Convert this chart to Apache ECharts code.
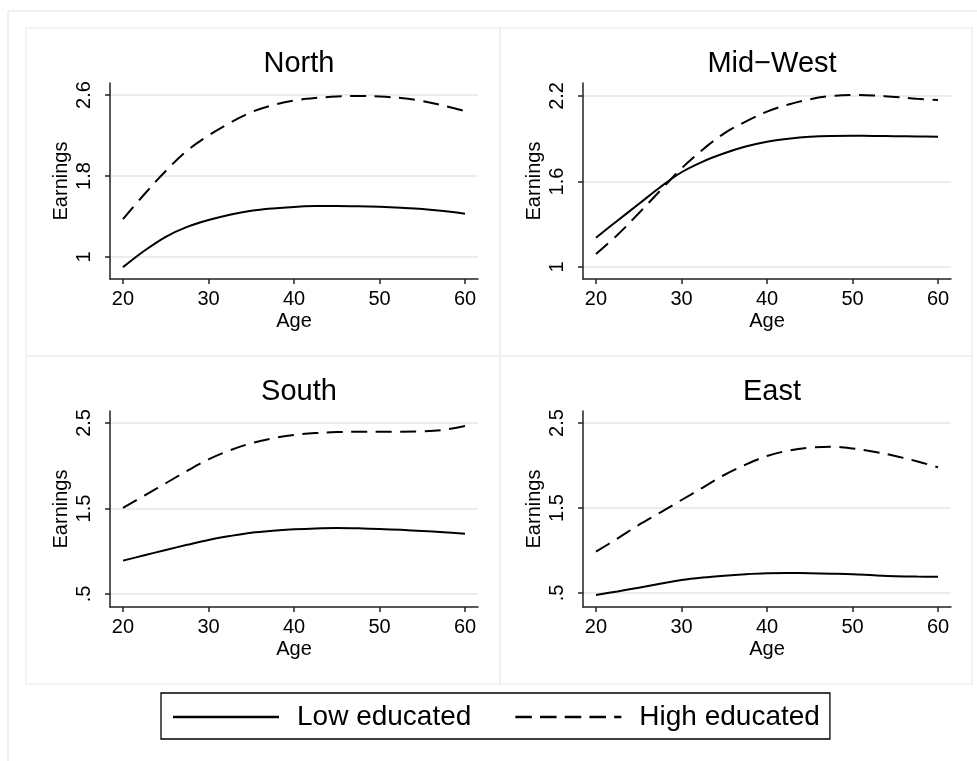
<!DOCTYPE html>
<html>
<head>
<meta charset="utf-8">
<script src="https://cdn.jsdelivr.net/npm/echarts@6/dist/echarts.min.js"></script>
<style>
html,body{margin:0;padding:0;background:#fff;}
#chart{width:977px;height:761px;}
</style>
</head>
<body>
<div id="chart"></div>
<script>
// ---- data ----
var ages = [20, 22.5, 25, 27.5, 30, 32.5, 35, 37.5, 40, 42.5, 45, 47.5, 50, 52.5, 55, 57.5, 60];
var regions = ['North', 'Mid\u2212West', 'South', 'East'];
var seriesNames = ['Low educated', 'High educated'];

var northLow  = [0.90, 1.062, 1.20, 1.298, 1.365, 1.418, 1.457, 1.48, 1.495, 1.503, 1.505, 1.502, 1.496, 1.487, 1.475, 1.455, 1.428];
var northHigh = [1.375, 1.62, 1.85, 2.05, 2.20, 2.325, 2.43, 2.50, 2.545, 2.57, 2.585, 2.59, 2.585, 2.57, 2.54, 2.495, 2.44];
var midwestLow  = [1.206, 1.325, 1.442, 1.56, 1.665, 1.74, 1.798, 1.845, 1.879, 1.90, 1.914, 1.92, 1.921, 1.92, 1.918, 1.916, 1.914];
var midwestHigh = [1.091, 1.225, 1.377, 1.535, 1.692, 1.825, 1.938, 2.02, 2.09, 2.14, 2.177, 2.20, 2.207, 2.203, 2.193, 2.18, 2.172];
var southLow  = [0.89, 0.953, 1.015, 1.075, 1.132, 1.178, 1.217, 1.24, 1.256, 1.267, 1.272, 1.268, 1.26, 1.25, 1.237, 1.222, 1.205];
var southHigh = [1.506, 1.65, 1.795, 1.94, 2.075, 2.18, 2.262, 2.32, 2.36, 2.382, 2.393, 2.397, 2.398, 2.398, 2.402, 2.42, 2.465];
var eastLow  = [0.476, 0.518, 0.562, 0.608, 0.653, 0.683, 0.704, 0.72, 0.731, 0.735, 0.733, 0.727, 0.72, 0.708, 0.698, 0.693, 0.692];
var eastHigh = [0.986, 1.14, 1.30, 1.445, 1.594, 1.74, 1.888, 2.01, 2.112, 2.175, 2.21, 2.22, 2.20, 2.162, 2.112, 2.05, 1.979];

var xTicks = [20, 30, 40, 50, 60];
var yTicksNorth = [1, 1.8, 2.6];
var yTicksMidwest = [1, 1.6, 2.2];
var yTicksSouth = [0.5, 1.5, 2.5];
var yTicksEast = [0.5, 1.5, 2.5];
var yTickLabels = {'0.5': '.5', '1': '1', '1.5': '1.5', '1.6': '1.6', '1.8': '1.8', '2.2': '2.2', '2.5': '2.5', '2.6': '2.6'};

var lowData = [northLow, midwestLow, southLow, eastLow];
var highData = [northHigh, midwestHigh, southHigh, eastHigh];
var yTickSets = [yTicksNorth, yTicksMidwest, yTicksSouth, yTicksEast];

// ---- layout ----
var FONT = '"Liberation Sans", Arial, Helvetica, sans-serif';
var grids = [
  {left: 110, top: 83, width: 368, height: 196},
  {left: 583, top: 83, width: 368, height: 196},
  {left: 110, top: 411, width: 368, height: 196},
  {left: 583, top: 411, width: 368, height: 196}
];
var yRanges = [[0.783, 2.7185], [0.916, 2.291], [0.348, 2.640], [0.335, 2.641]];
var xRange = [18.48, 61.52];

// legend icons (solid bar and five dashes)
var solidIcon = 'path://M0,0H106V2.6H0Z';
var dashedIcon = 'path://M0,0H16.5V2.6H0Z M24.7,0H41.2V2.6H24.7Z M49.4,0H65.9V2.6H49.4Z M74.1,0H90.6V2.6H74.1Z M98.8,0H106V2.6H98.8Z';

function pairs(arr) {
  return ages.map(function (a, i) { return [a, arr[i]]; });
}

var option = {
  backgroundColor: '#ffffff',
  animation: false,
  textStyle: {fontFamily: FONT},
  title: regions.map(function (r, i) {
    return {
      text: r,
      left: grids[i].left + grids[i].width / 2,
      top: i < 2 ? 44 : 372,
      textAlign: 'center',
      textStyle: {fontSize: 29, fontWeight: 'normal', color: '#000', fontFamily: FONT}
    };
  }),
  graphic: [
    {type: 'rect', silent: true, z: -10, shape: {x: 8, y: 11, width: 1100, height: 900},
     style: {fill: 'none', stroke: '#ebebeb', lineWidth: 1.5}},
    {type: 'rect', silent: true, z: -10, shape: {x: 26, y: 28, width: 474, height: 328},
     style: {fill: 'none', stroke: '#efefef', lineWidth: 1.5}},
    {type: 'rect', silent: true, z: -10, shape: {x: 500, y: 28, width: 472, height: 328},
     style: {fill: 'none', stroke: '#efefef', lineWidth: 1.5}},
    {type: 'rect', silent: true, z: -10, shape: {x: 26, y: 356, width: 474, height: 328},
     style: {fill: 'none', stroke: '#efefef', lineWidth: 1.5}},
    {type: 'rect', silent: true, z: -10, shape: {x: 500, y: 356, width: 472, height: 328},
     style: {fill: 'none', stroke: '#efefef', lineWidth: 1.5}}
  ],
  legend: {
    data: [
      {name: seriesNames[0], icon: solidIcon},
      {name: seriesNames[1], icon: dashedIcon}
    ],
    left: 161,
    top: 693,
    orient: 'horizontal',
    borderColor: '#000',
    borderWidth: 1.3,
    padding: [10, 10, 8, 12],
    itemWidth: 106,
    itemHeight: 2.6,
    itemGap: 44,
    selectedMode: false,
    itemStyle: {color: '#000', borderWidth: 0},
    textStyle: {fontSize: 28, color: '#000', fontFamily: FONT, padding: [0, 0, 0, 13]}
  },
  grid: grids,
  xAxis: grids.map(function (g, i) {
    return {
      type: 'value', gridIndex: i, min: xRange[0], max: xRange[1],
      name: 'Age', nameLocation: 'middle', nameGap: 32,
      nameTextStyle: {fontSize: 20, color: '#000', fontFamily: FONT},
      axisLine: {show: true, onZero: false, lineStyle: {color: '#222', width: 1.5}},
      axisTick: {show: true, length: 5, lineStyle: {color: '#222', width: 1.5}, customValues: xTicks},
      axisLabel: {fontSize: 20, color: '#000', margin: 10, fontFamily: FONT, customValues: xTicks},
      splitLine: {show: false}
    };
  }),
  yAxis: grids.map(function (g, i) {
    return {
      type: 'value', gridIndex: i, min: yRanges[i][0], max: yRanges[i][1],
      name: 'Earnings', nameLocation: 'middle', nameGap: 39, nameRotate: 90,
      nameTextStyle: {fontSize: 20, color: '#000', fontFamily: FONT},
      axisLine: {show: true, onZero: false, lineStyle: {color: '#222', width: 1.5}},
      axisTick: {show: true, length: 5, lineStyle: {color: '#222', width: 1.5}, customValues: yTickSets[i]},
      axisLabel: {fontSize: 20, color: '#000', margin: 16, rotate: 90, fontFamily: FONT,
        customValues: yTickSets[i],
        formatter: function (v) { var k = String(+v.toFixed(2)); return yTickLabels[k] !== undefined ? yTickLabels[k] : k; }},
      splitLine: {show: true, lineStyle: {color: '#e6e6e6', width: 1.5}}
    };
  }),
  series: []
};

for (var i = 0; i < 4; i++) {
  option.series.push({
    name: seriesNames[0], type: 'line', xAxisIndex: i, yAxisIndex: i,
    data: pairs(lowData[i]), smooth: 0.35, symbol: 'none',
    lineStyle: {color: '#000', width: 2, type: 'solid'},
    itemStyle: {color: '#000'}
  });
  option.series.push({
    name: seriesNames[1], type: 'line', xAxisIndex: i, yAxisIndex: i,
    data: pairs(highData[i]), smooth: 0.35, symbol: 'none',
    lineStyle: {color: '#000', width: 2, type: [16, 8.5]},
    itemStyle: {color: '#000'}
  });
}

var chart = echarts.init(document.getElementById('chart'), null, {renderer: 'canvas'});
chart.setOption(option);
</script>
</body>
</html>
